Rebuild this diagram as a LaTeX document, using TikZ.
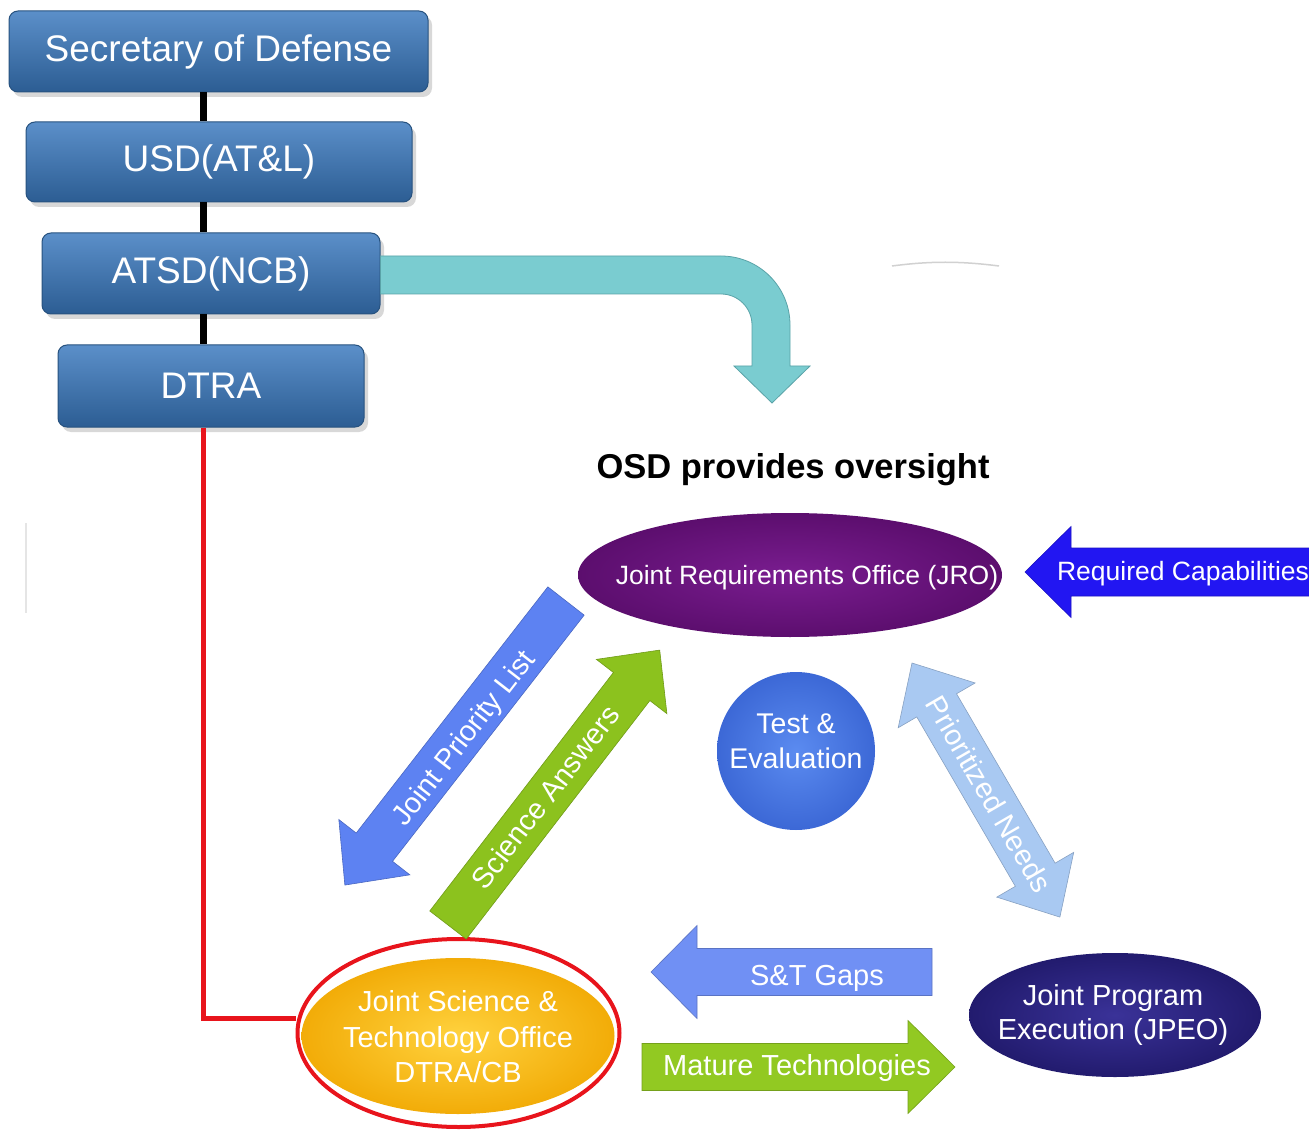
\documentclass[tikz,border=0pt]{standalone}
\usepackage{fontspec}
\setmainfont{Liberation Sans}
\usetikzlibrary{shapes.geometric,shadows}
\definecolor{boxtop}{HTML}{5B8FC9}
\definecolor{boxbot}{HTML}{2C5D93}
\definecolor{boxedge}{HTML}{27527F}
\definecolor{cyanarr}{HTML}{7ACCD0}
\definecolor{cyanedge}{HTML}{5AA3A8}
\definecolor{jroin}{HTML}{7A1D90}
\definecolor{jroout}{HTML}{5C0E6E}
\definecolor{tein}{HTML}{5B8BF0}
\definecolor{teout}{HTML}{3C68D6}
\definecolor{jpeoin}{HTML}{3A3298}
\definecolor{jpeoout}{HTML}{221B6E}
\definecolor{jstoin}{HTML}{FFD23E}
\definecolor{jstoout}{HTML}{F2AC08}
\definecolor{rcblue}{HTML}{2216F2}
\definecolor{stblue}{HTML}{7090F4}
\definecolor{mtgreen}{HTML}{92C922}
\definecolor{jplblue}{HTML}{5D82F2}
\definecolor{sagreen}{HTML}{8CC21E}
\definecolor{pnblue}{HTML}{A9C9F2}
\definecolor{ringred}{HTML}{E8141C}
% #1 tail coordinate, #2 angle, #3 length, #4 shaft width, #5 head width, #6 head length, #7 style
\newcommand\fatarrow[7]{%
  \begin{scope}[shift={(#1)}, rotate=#2]
    \fill[#7] (0,{-#4/2}) -- ({#3-#6},{-#4/2}) -- ({#3-#6},{-#5/2}) -- (#3,0)
      -- ({#3-#6},{#5/2}) -- ({#3-#6},{#4/2}) -- (0,{#4/2}) -- cycle;
  \end{scope}}
% double-headed: #1 first tip, #2 angle, #3 length, #4 shaft, #5 head, #6 head length, #7 style
\newcommand\dblarrow[7]{%
  \begin{scope}[shift={(#1)}, rotate=#2]
    \fill[#7] (0,0) -- (#6,{#5/2}) -- (#6,{#4/2}) -- ({#3-#6},{#4/2}) -- ({#3-#6},{#5/2})
      -- (#3,0) -- ({#3-#6},{-#5/2}) -- ({#3-#6},{-#4/2}) -- (#6,{-#4/2}) -- (#6,{-#5/2}) -- cycle;
  \end{scope}}
\tikzset{
  orgbox/.style={rectangle, rounded corners=9pt, top color=boxtop, bottom color=boxbot,
    draw=boxedge, line width=1pt, text=white, font=\fontsize{37}{44}\selectfont, inner sep=0pt,
    drop shadow={opacity=0.3, shadow xshift=4pt, shadow yshift=-5pt}},
  spineline/.style={line width=7pt, black},
  redline/.style={line width=5pt, ringred},
  oval/.style={ellipse, inner sep=0pt},
  ovaltext/.style={text=white, align=center, inner sep=0pt},
  arrowtext/.style={text=white, inner sep=0pt, font=\fontsize{29}{34}\selectfont},
  jplstyle/.style={fill=jplblue, draw=jplblue!80!black, line width=0.6pt},
  sastyle/.style={fill=sagreen, draw=sagreen!80!black, line width=0.6pt},
  pnstyle/.style={fill=pnblue, draw=pnblue!80!black, line width=0.6pt},
  rcstyle/.style={fill=rcblue, draw=rcblue!80!black, line width=0.6pt},
  ststyle/.style={fill=stblue, draw=stblue!80!black, line width=0.6pt},
  mtstyle/.style={fill=mtgreen, draw=mtgreen!80!black, line width=0.6pt}
}
\begin{document}
\begin{tikzpicture}[x=1pt,y=-1pt]
\fill[white] (0,0) rectangle (1309,1131);
\useasboundingbox (0,0) rectangle (1309,1131);

% faint artifacts
\draw[black!10, line width=1.5pt] (26,523) -- (26,613);
\draw[black!18, line width=1.5pt] (892,266) .. controls (930,261) and (960,261) .. (999,266);

% org boxes
\node[orgbox, minimum width=419pt, minimum height=81pt] (sec) at (218.5,51.5) {Secretary of Defense};
\node[orgbox, minimum width=386pt, minimum height=80pt] (usd) at (219,162) {USD(AT\&L)};
\node[orgbox, minimum width=338pt, minimum height=81pt] (atsd) at (211,273.5) {ATSD(NCB)};
\node[orgbox, minimum width=306pt, minimum height=82pt] (dtra) at (211,386) {DTRA};

\coordinate (spine) at (203,0);
\draw[spineline] (sec.south -| spine) -- (usd.north -| spine);
\draw[spineline] (usd.south -| spine) -- (atsd.north -| spine);
\draw[spineline] (atsd.south -| spine) -- (dtra.north -| spine);

% cyan bent arrow
\fill[cyanarr, draw=cyanedge, line width=0.8pt] ([yshift=17.5pt]atsd.east) -- (721,256)
  .. controls (759.1,256) and (790,286.9) .. (790,325) -- (790,366) -- (810,366) -- (772,403)
  -- (734,366) -- (752,366) -- (752,325) .. controls (752,307.9) and (738.1,294) .. (721,294)
  -- ([yshift=-20.5pt]atsd.east) -- cycle;

% title
\node[font=\bfseries\fontsize{34.5}{40}\selectfont, inner sep=0pt] (osd) at (793,470) {OSD provides oversight};

% ellipses
\node[oval, minimum width=424pt, minimum height=124pt, inner color=jroin, outer color=jroout] (jro) at (790,575) {};
\node[ovaltext, font=\fontsize{26.5}{32}\selectfont] (jrotext) at (807,578) {Joint Requirements Office (JRO)};

\node[circle, inner sep=0pt, minimum size=158pt, inner color=tein, outer color=teout] (te) at (796,751) {};
\node[ovaltext, font=\fontsize{28.5}{35}\selectfont] (tetext) at (796,741) {Test \&\\Evaluation};

\node[oval, minimum width=292pt, minimum height=124pt, inner color=jpeoin, outer color=jpeoout] (jpeo) at (1115,1015) {};
\node[ovaltext, font=\fontsize{29}{34.5}\selectfont] (jpeotext) at (1113,1015) {Joint Program\\Execution (JPEO)};

\node[oval, minimum width=313pt, minimum height=156pt, inner color=jstoin, outer color=jstoout] (jsto) at (458,1036) {};
\node[ovaltext, font=\fontsize{29}{35.5}\selectfont] (jstotext) at (458,1037) {Joint Science \&\\Technology Office\\DTRA/CB};
\node[ellipse, draw=ringred, line width=4pt, minimum width=322pt, minimum height=188pt, inner sep=0pt] (jstoring) at (458.5,1033) {};

% red link
\coordinate (redcorner) at (203,1018);
\draw[redline] (dtra.south -| spine) -- (redcorner) -- (redcorner -| jstoring.west);

% diagonal arrows
\coordinate (jpltail) at (566,601);
\fatarrow{jpltail}{-127.9}{360}{46}{90}{48}{jplstyle}
\node[arrowtext, rotate=52.1] (jpltext) at (465,739) {Joint Priority List};

\coordinate (satail) at (448,925);
\fatarrow{satail}{52.4}{347}{46}{89}{46}{sastyle}
\node[arrowtext, rotate=52.4] (satext) at (545,797) {Science Answers};

\coordinate (pntip) at (912,663);
\dblarrow{pntip}{-59.8}{294}{46}{89}{49}{pnstyle}
\node[arrowtext, rotate=-59.8] (pntext) at (989,794) {Prioritized Needs};

% horizontal arrows
\coordinate (rctail) at (1330,572);
\fatarrow{rctail}{180}{305}{48}{91}{46}{rcstyle}
\node[arrowtext, font=\fontsize{26.5}{32}\selectfont] (rctext) at (1183,574) {Required Capabilities};

\coordinate (sttail) at (932,972);
\fatarrow{sttail}{180}{281}{47}{93}{46}{ststyle}
\node[arrowtext] (sttext) at (817,978) {S\&T Gaps};

\coordinate (mttail) at (642,1067);
\fatarrow{mttail}{0}{313}{47}{93}{47}{mtstyle}
\node[arrowtext] (mttext) at (797,1068) {Mature Technologies};
\end{tikzpicture}
\end{document}
